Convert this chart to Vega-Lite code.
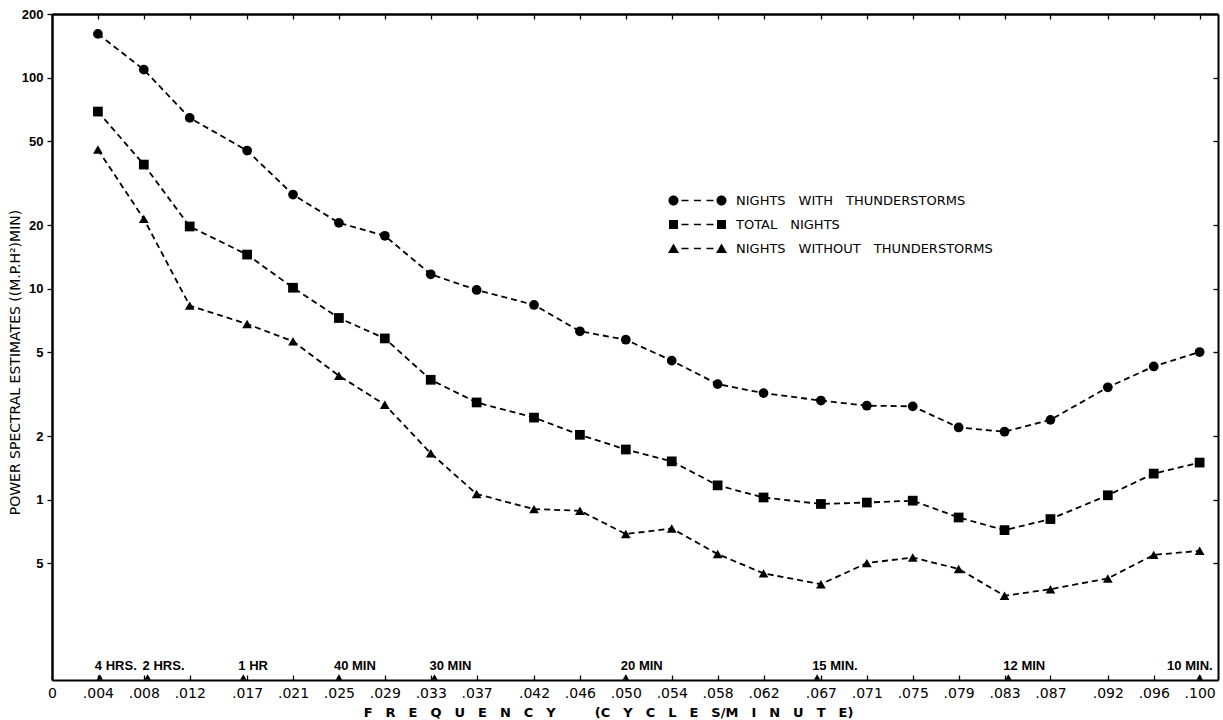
{
  "$schema": "https://vega.github.io/schema/vega-lite/v6.json",
  "width": 1166,
  "height": 666,
  "autosize": {"type": "none"},
  "padding": {"left": 52, "top": 14, "right": 5, "bottom": 40},
  "background": "white",
  "config": {
    "view": {"stroke": null},
    "axis": {"grid": false, "domainColor": "black", "tickColor": "black", "labelColor": "black", "titleColor": "black"}
  },
  "datasets": {
    "spectra": [
      {"series": "NIGHTS WITH THUNDERSTORMS", "f": 0.004, "v": 161},
      {"series": "NIGHTS WITH THUNDERSTORMS", "f": 0.008, "v": 109},
      {"series": "NIGHTS WITH THUNDERSTORMS", "f": 0.012, "v": 64.4},
      {"series": "NIGHTS WITH THUNDERSTORMS", "f": 0.017, "v": 45.1},
      {"series": "NIGHTS WITH THUNDERSTORMS", "f": 0.021, "v": 27.9},
      {"series": "NIGHTS WITH THUNDERSTORMS", "f": 0.025, "v": 20.5},
      {"series": "NIGHTS WITH THUNDERSTORMS", "f": 0.029, "v": 17.8},
      {"series": "NIGHTS WITH THUNDERSTORMS", "f": 0.033, "v": 11.7},
      {"series": "NIGHTS WITH THUNDERSTORMS", "f": 0.037, "v": 9.86},
      {"series": "NIGHTS WITH THUNDERSTORMS", "f": 0.042, "v": 8.37},
      {"series": "NIGHTS WITH THUNDERSTORMS", "f": 0.046, "v": 6.28},
      {"series": "NIGHTS WITH THUNDERSTORMS", "f": 0.050, "v": 5.73},
      {"series": "NIGHTS WITH THUNDERSTORMS", "f": 0.054, "v": 4.56},
      {"series": "NIGHTS WITH THUNDERSTORMS", "f": 0.058, "v": 3.53},
      {"series": "NIGHTS WITH THUNDERSTORMS", "f": 0.062, "v": 3.2},
      {"series": "NIGHTS WITH THUNDERSTORMS", "f": 0.067, "v": 2.95},
      {"series": "NIGHTS WITH THUNDERSTORMS", "f": 0.071, "v": 2.79},
      {"series": "NIGHTS WITH THUNDERSTORMS", "f": 0.075, "v": 2.77},
      {"series": "NIGHTS WITH THUNDERSTORMS", "f": 0.079, "v": 2.2},
      {"series": "NIGHTS WITH THUNDERSTORMS", "f": 0.083, "v": 2.1},
      {"series": "NIGHTS WITH THUNDERSTORMS", "f": 0.087, "v": 2.39},
      {"series": "NIGHTS WITH THUNDERSTORMS", "f": 0.092, "v": 3.41},
      {"series": "NIGHTS WITH THUNDERSTORMS", "f": 0.096, "v": 4.28},
      {"series": "NIGHTS WITH THUNDERSTORMS", "f": 0.100, "v": 5.01},
      {"series": "TOTAL NIGHTS", "f": 0.004, "v": 69},
      {"series": "TOTAL NIGHTS", "f": 0.008, "v": 38.7},
      {"series": "TOTAL NIGHTS", "f": 0.012, "v": 19.7},
      {"series": "TOTAL NIGHTS", "f": 0.017, "v": 14.5},
      {"series": "TOTAL NIGHTS", "f": 0.021, "v": 10.1},
      {"series": "TOTAL NIGHTS", "f": 0.025, "v": 7.26},
      {"series": "TOTAL NIGHTS", "f": 0.029, "v": 5.81},
      {"series": "TOTAL NIGHTS", "f": 0.033, "v": 3.7},
      {"series": "TOTAL NIGHTS", "f": 0.037, "v": 2.89},
      {"series": "TOTAL NIGHTS", "f": 0.042, "v": 2.45},
      {"series": "TOTAL NIGHTS", "f": 0.046, "v": 2.03},
      {"series": "TOTAL NIGHTS", "f": 0.050, "v": 1.73},
      {"series": "TOTAL NIGHTS", "f": 0.054, "v": 1.52},
      {"series": "TOTAL NIGHTS", "f": 0.058, "v": 1.17},
      {"series": "TOTAL NIGHTS", "f": 0.062, "v": 1.025},
      {"series": "TOTAL NIGHTS", "f": 0.067, "v": 0.955},
      {"series": "TOTAL NIGHTS", "f": 0.071, "v": 0.97},
      {"series": "TOTAL NIGHTS", "f": 0.075, "v": 0.99},
      {"series": "TOTAL NIGHTS", "f": 0.079, "v": 0.824},
      {"series": "TOTAL NIGHTS", "f": 0.083, "v": 0.718},
      {"series": "TOTAL NIGHTS", "f": 0.087, "v": 0.81},
      {"series": "TOTAL NIGHTS", "f": 0.092, "v": 1.05},
      {"series": "TOTAL NIGHTS", "f": 0.096, "v": 1.33},
      {"series": "TOTAL NIGHTS", "f": 0.100, "v": 1.5},
      {"series": "NIGHTS WITHOUT THUNDERSTORMS", "f": 0.004, "v": 45.6},
      {"series": "NIGHTS WITHOUT THUNDERSTORMS", "f": 0.008, "v": 21.4},
      {"series": "NIGHTS WITHOUT THUNDERSTORMS", "f": 0.012, "v": 8.31},
      {"series": "NIGHTS WITHOUT THUNDERSTORMS", "f": 0.017, "v": 6.8},
      {"series": "NIGHTS WITHOUT THUNDERSTORMS", "f": 0.021, "v": 5.63},
      {"series": "NIGHTS WITHOUT THUNDERSTORMS", "f": 0.025, "v": 3.87},
      {"series": "NIGHTS WITHOUT THUNDERSTORMS", "f": 0.029, "v": 2.82},
      {"series": "NIGHTS WITHOUT THUNDERSTORMS", "f": 0.033, "v": 1.66},
      {"series": "NIGHTS WITHOUT THUNDERSTORMS", "f": 0.037, "v": 1.064},
      {"series": "NIGHTS WITHOUT THUNDERSTORMS", "f": 0.042, "v": 0.903},
      {"series": "NIGHTS WITHOUT THUNDERSTORMS", "f": 0.046, "v": 0.887},
      {"series": "NIGHTS WITHOUT THUNDERSTORMS", "f": 0.050, "v": 0.688},
      {"series": "NIGHTS WITHOUT THUNDERSTORMS", "f": 0.054, "v": 0.731},
      {"series": "NIGHTS WITHOUT THUNDERSTORMS", "f": 0.058, "v": 0.553},
      {"series": "NIGHTS WITHOUT THUNDERSTORMS", "f": 0.062, "v": 0.448},
      {"series": "NIGHTS WITHOUT THUNDERSTORMS", "f": 0.067, "v": 0.398},
      {"series": "NIGHTS WITHOUT THUNDERSTORMS", "f": 0.071, "v": 0.501},
      {"series": "NIGHTS WITHOUT THUNDERSTORMS", "f": 0.075, "v": 0.533},
      {"series": "NIGHTS WITHOUT THUNDERSTORMS", "f": 0.079, "v": 0.47},
      {"series": "NIGHTS WITHOUT THUNDERSTORMS", "f": 0.083, "v": 0.351},
      {"series": "NIGHTS WITHOUT THUNDERSTORMS", "f": 0.087, "v": 0.377},
      {"series": "NIGHTS WITHOUT THUNDERSTORMS", "f": 0.092, "v": 0.424},
      {"series": "NIGHTS WITHOUT THUNDERSTORMS", "f": 0.096, "v": 0.548},
      {"series": "NIGHTS WITHOUT THUNDERSTORMS", "f": 0.100, "v": 0.573}
    ],
    "periods": [
      {"f": 0.00417, "label": "4 HRS."},
      {"f": 0.00833, "label": "2 HRS."},
      {"f": 0.01667, "label": "1 HR"},
      {"f": 0.025, "label": "40 MIN"},
      {"f": 0.03333, "label": "30 MIN"},
      {"f": 0.05, "label": "20 MIN"},
      {"f": 0.06667, "label": "15 MIN."},
      {"f": 0.08333, "label": "12 MIN"},
      {"f": 0.1, "label": "10 MIN."}
    ]
  },
  "resolve": {
    "axis": {"x": "independent", "y": "independent"},
    "scale": {"shape": "independent"},
    "legend": {"shape": "independent"}
  },
  "layer": [
    {
      "data": {"name": "spectra"},
      "mark": {"type": "line", "color": "black", "strokeWidth": 1.8, "strokeDash": [6, 4]},
      "encoding": {
        "x": {
          "field": "f", "type": "quantitative",
          "scale": {"domain": [0, 0.1016], "nice": false, "zero": false},
          "axis": {
            "orient": "bottom",
            "values": [0, 0.004, 0.008, 0.012, 0.017, 0.021, 0.025, 0.029, 0.033, 0.037, 0.042, 0.046, 0.05, 0.054, 0.058, 0.062, 0.067, 0.071, 0.075, 0.079, 0.083, 0.087, 0.092, 0.096, 0.1],
            "labelExpr": "datum.value == 0 ? '0' : replace(format(datum.value, '.3f'), '0.', '.')",
            "labelFont": "DejaVu Sans", "labelFontSize": 14, "labelFlush": false, "labelOverlap": false,
            "tickSize": -5, "tickWidth": 1.3, "labelPadding": 11,
            "domainWidth": 2,
            "title": "F\u2003R\u2003E\u2003Q\u2003U\u2003E\u2003N\u2003C\u2003Y\u2003\u2003\u2003(C\u2003Y\u2003C\u2003L\u2003E\u2003S/M\u2003I\u2003N\u2003U\u2003T\u2003E)",
            "titleFont": "DejaVu Sans", "titleFontSize": 13, "titleFontWeight": "bold",
            "titleX": 556, "titleY": 32, "titleAlign": "center", "titleBaseline": "middle", "titleAnchor": null
          }
        },
        "y": {
          "field": "v", "type": "quantitative",
          "scale": {"type": "log", "domain": [0.14, 200], "nice": false},
          "axis": {
            "orient": "left",
            "values": [0.5, 1, 2, 5, 10, 20, 50, 100, 200],
            "labelExpr": "datum.value < 1 ? '5' : format(datum.value, 'd')",
            "labelFont": "Liberation Sans", "labelFontSize": 13, "labelFontWeight": "bold",
            "tickSize": 5, "tickWidth": 1.3, "labelPadding": 4, "domainWidth": 2.5,
            "title": "POWER SPECTRAL ESTIMATES ((M.P.H\u00b2)MIN)",
            "titleFont": "DejaVu Sans", "titleFontSize": 14, "titleFontWeight": "normal",
            "titleAngle": -90, "titleX": -37, "titleY": 348, "titleAlign": "center", "titleBaseline": "middle"
          }
        },
        "detail": {"field": "series"}
      }
    },
    {
      "data": {"name": "spectra"},
      "mark": {"type": "point", "filled": true, "opacity": 1, "color": "black", "size": 95},
      "encoding": {
        "x": {
          "field": "f", "type": "quantitative",
          "scale": {"domain": [0, 0.1016], "nice": false, "zero": false},
          "axis": {
            "orient": "top",
            "values": [0.004, 0.008, 0.012, 0.017, 0.021, 0.025, 0.029, 0.033, 0.037, 0.042, 0.046, 0.05, 0.054, 0.058, 0.062, 0.067, 0.071, 0.075, 0.079, 0.083, 0.087, 0.092, 0.096, 0.1],
            "labels": false, "tickSize": -5, "tickWidth": 1.3, "domainWidth": 2.5, "title": null
          }
        },
        "y": {
          "field": "v", "type": "quantitative",
          "scale": {"type": "log", "domain": [0.14, 200], "nice": false},
          "axis": {
            "orient": "right",
            "values": [0.5, 1, 2, 5, 10, 20, 50, 100],
            "labels": false, "tickSize": -5, "tickWidth": 1.3, "domainWidth": 2, "title": null
          }
        },
        "shape": {
          "field": "series", "type": "nominal",
          "scale": {"domain": ["NIGHTS WITH THUNDERSTORMS", "TOTAL NIGHTS", "NIGHTS WITHOUT THUNDERSTORMS"], "range": ["circle", "square", "triangle-up"]},
          "legend": null
        }
      }
    },
    {
      "data": {"name": "spectra"},
      "transform": [{"filter": "false"}],
      "mark": {"type": "point", "filled": true, "opacity": 1, "color": "black"},
      "encoding": {
        "shape": {
          "field": "series", "type": "nominal",
          "scale": {
            "domain": ["NIGHTS WITH THUNDERSTORMS", "TOTAL NIGHTS", "NIGHTS WITHOUT THUNDERSTORMS"],
            "range": [
              "M1,0A1,1,0,1,1,-1,0A1,1,0,1,1,1,0Z M-8.6,0A1,1,0,1,1,-10.6,0A1,1,0,1,1,-8.6,0Z M-8,-0.17H-6.6V0.17H-8Z M-5.5,-0.17H-4.1V0.17H-5.5Z M-3,-0.17H-1.6V0.17H-3Z",
              "M-0.9,-0.9H0.9V0.9H-0.9Z M-10.5,-0.9H-8.7V0.9H-10.5Z M-8,-0.17H-6.6V0.17H-8Z M-5.5,-0.17H-4.1V0.17H-5.5Z M-3,-0.17H-1.6V0.17H-3Z",
              "M0,-1L1.1,0.9L-1.1,0.9Z M-9.6,-1L-8.5,0.9L-10.7,0.9Z M-8,-0.17H-6.6V0.17H-8Z M-5.5,-0.17H-4.1V0.17H-5.5Z M-3,-0.17H-1.6V0.17H-3Z"
            ]
          },
          "legend": {
            "orient": "none", "legendX": 663, "legendY": 180, "title": null, "padding": 0,
            "symbolSize": 100, "symbolStrokeWidth": 0, "symbolFillColor": "black",
            "labelOffset": 8, "rowPadding": 10, "labelLimit": 400,
            "labelFont": "DejaVu Sans", "labelFontSize": 13, "labelColor": "black",
            "labelExpr": "join(split(datum.label, ' '), '\u2003')"
          }
        }
      }
    },
    {
      "data": {"name": "periods"},
      "mark": {"type": "point", "shape": "triangle-up", "filled": true, "opacity": 1, "color": "black", "size": 40, "yOffset": -3},
      "encoding": {
        "x": {"field": "f", "type": "quantitative", "scale": {"domain": [0, 0.1016], "nice": false, "zero": false}, "axis": null},
        "y": {"value": "height"}
      }
    },
    {
      "data": {"name": "periods"},
      "transform": [{"filter": "datum.label != '10 MIN.'"}],
      "mark": {"type": "text", "align": "left", "baseline": "middle", "dx": -5, "dy": -14, "font": "Liberation Sans", "fontSize": 13, "fontWeight": "bold", "color": "black"},
      "encoding": {
        "x": {"field": "f", "type": "quantitative", "scale": {"domain": [0, 0.1016], "nice": false, "zero": false}, "axis": null},
        "y": {"value": "height"},
        "text": {"field": "label"}
      }
    },
    {
      "data": {"name": "periods"},
      "transform": [{"filter": "datum.label == '10 MIN.'"}],
      "mark": {"type": "text", "align": "right", "baseline": "middle", "dx": 13, "dy": -14, "font": "Liberation Sans", "fontSize": 13, "fontWeight": "bold", "color": "black"},
      "encoding": {
        "x": {"field": "f", "type": "quantitative", "scale": {"domain": [0, 0.1016], "nice": false, "zero": false}, "axis": null},
        "y": {"value": "height"},
        "text": {"field": "label"}
      }
    }
  ]
}
